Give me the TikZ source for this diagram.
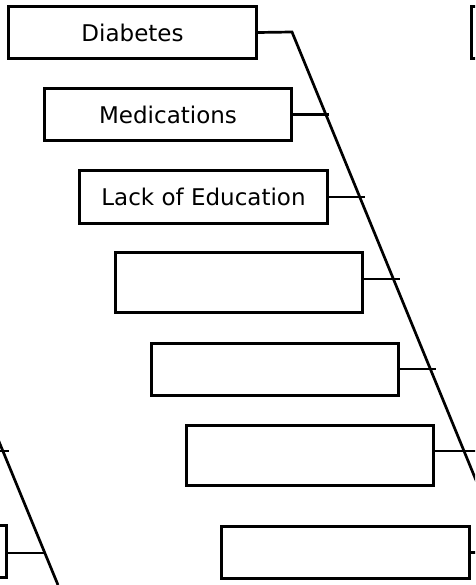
\documentclass[tikz,border=0pt]{standalone}
\usepackage{fontspec}
\setmainfont{DejaVu Sans}
\begin{document}
\begin{tikzpicture}[x=1pt,y=-1pt,
  causebox/.style={draw=black,line width=3pt,fill=white,inner sep=0pt,
    minimum width=247.5pt,minimum height=52pt,
    font=\fontsize{23}{27}\selectfont},
  tallbox/.style={causebox,minimum height=60pt},
  link/.style={draw=black,line width=2.7pt}]
\useasboundingbox (0,0) rectangle (475,585);
\clip (0,0) rectangle (475,585);

% cause boxes, stepping down and to the right
\node[causebox] (b1) at (132.5,32.5) {Diabetes};
\node[causebox] (b2) at (168,114.5) {Medications};
\node[causebox] (b3) at (203.5,197) {Lack of Education};
\node[tallbox]  (b4) at (239,282.5) {};
\node[causebox] (b5) at (274.8,369) {};
\node[tallbox]  (b6) at (310,455.5) {};
\node[causebox] (b7) at (345.5,552.5) {};

% neighbouring branches cut by the frame
\node[causebox] (r1) at (595,32.5) {};
\node[causebox] (l1) at (-117.5,551) {};

% main slanted bone
\coordinate (spineTop) at (292,32);
\coordinate (spineEnd) at (519,585);
\draw[link,line join=miter] (b1.east) -- (spineTop) -- (spineEnd);

% ribs from each box across the bone
\draw[link] (b2.east) -- ++(36,0);
\draw[link] (b3.east) -- ++(36,0);
\draw[link] ([yshift=3.5pt]b4.east) -- ++(36,0);
\draw[link] (b5.east) -- ++(36,0);
\draw[link] ([yshift=4.5pt]b6.east) -- ++(45,0);
\draw[link] (b7.east) -- ++(20,0);

% left-hand bone
\coordinate (leftTop) at (-10,419.7);
\coordinate (leftEnd) at (58,585);
\coordinate (leftRib) at (-10,451);
\draw[link] (leftTop) -- (leftEnd);
\draw[link] (leftRib) -- ++(19,0);
\draw[link] ([yshift=-2pt]l1.east) -- ++(36,0);
\end{tikzpicture}
\end{document}
